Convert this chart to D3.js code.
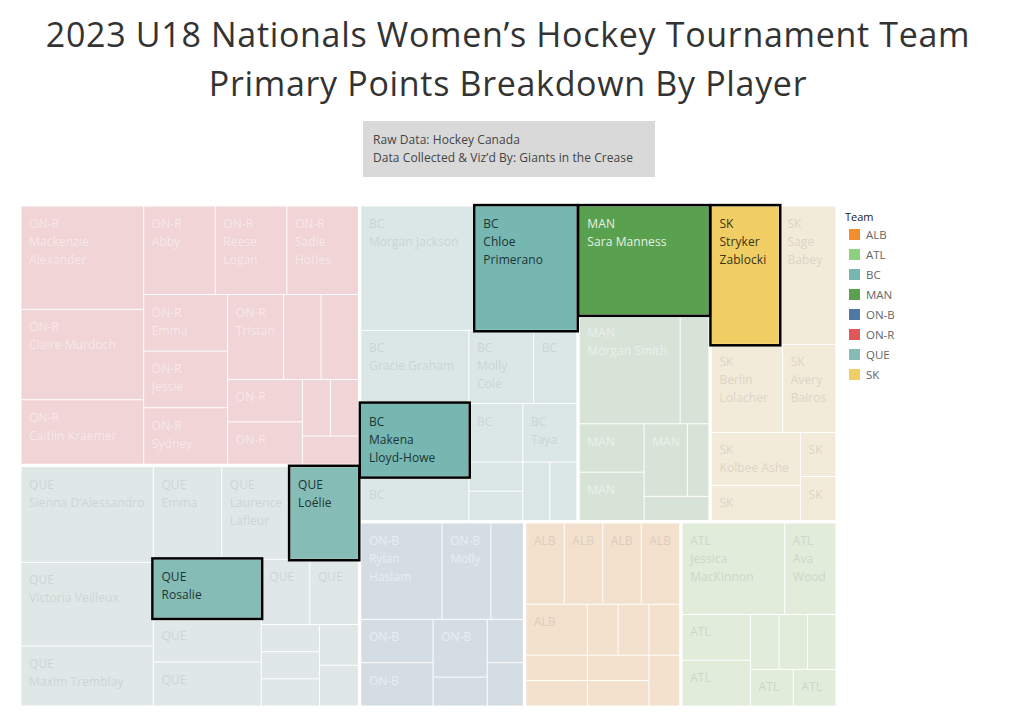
<!DOCTYPE html>
<html>
<head>
<meta charset="utf-8">
<script src="https://cdn.jsdelivr.net/npm/d3@7"></script>
<style>
  html, body { margin: 0; padding: 0; background: #fff; }
  svg { display: block; font-family: "Open Sans", sans-serif; }
</style>
</head>
<body>
<svg id="chart" width="1015" height="713"></svg>
<script>
/* ── Data ───────────────────────────────────────────────────────────────── */
const titleLines = ['2023 U18 Nationals Women’s Hockey Tournament Team', 'Primary Points Breakdown By Player'];
const noteLines  = ['Raw Data: Hockey Canada', 'Data Collected & Viz’d By: Giants in the Crease'];

const legendTeams = ['ALB', 'ATL', 'BC', 'MAN', 'ON-B', 'ON-R', 'QUE', 'SK'];

const onrPoints = [8, 7, 5, 4, 4, 4, 3, 3, 3, 3, 2, 2, 2, 2, 1, 1, 1];
const onrNames  = ['Mackenzie Alexander', 'Claire Murdoch', 'Caitlin Kraemer', 'Abby', 'Reese Logan', 'Sadie Hotles', 'Emma', 'Jessie', 'Sydney', 'Tristan'];
const quePoints = [8, 7, 5, 4, 4, 4, 4, 3, 3, 2, 2, 1, 1, 1, 1, 1];
const queNames  = ['Sienna D’Alessandro', 'Victoria Veilleux', 'Maxim Tremblay', 'Emma', 'Laurence Lafleur', 'Loélie', 'Rosalie'];
const bcPoints  = [9, 8, 5, 5, 3, 3, 2, 2, 2, 1, 1, 1, 1];
const bcNames   = ['Morgan Jackson', 'Chloe Primerano', 'Gracie Graham', 'Makena Lloyd-Howe', '', 'Molly Cole', '', '', 'Taya'];
const manPoints = [9, 7, 2, 2, 2, 2, 1, 1];
const manNames  = ['Sara Manness', 'Morgan Smith'];
const skPoints  = [6, 5, 4, 3, 3, 2, 1, 1];
const skNames   = ['Stryker Zablocki', 'Sage Babey', 'Berlin Lolacher', 'Avery Bairos', 'Kolbee Ashe'];
const onbPoints = [5, 3, 2, 2, 2, 2, 1, 1, 1];
const onbNames  = ['Rylan Haslam', 'Molly'];
const albPoints = [2, 2, 2, 2, 2, 1, 1, 1, 1, 1, 1, 1, 1];
const albNames  = [];
const atlPoints = [6, 3, 2, 2, 1, 1, 1, 1, 1];
const atlNames  = ['Jessica MacKinnon', 'Ava Wood'];

const highlighted = ['Chloe Primerano', 'Makena Lloyd-Howe', 'Sara Manness', 'Stryker Zablocki', 'Loélie', 'Rosalie'];

/* ── Colours ────────────────────────────────────────────────────────────── */
const teamColor = d3.scaleOrdinal(legendTeams, ['#f28e2b', '#8cd17d', '#76b7b2', '#59a14f', '#4e79a7', '#e15759', '#86bcb6', '#f1ce63']);
const fadeColor = d3.scaleOrdinal(legendTeams, ['#f3e1ce', '#e1ecdb', '#dbe7e6', '#d8e3d8', '#d4dde4', '#f0d4d6', '#dfe8e7', '#f2ebda']);
const fadeLabel = d3.scaleOrdinal(legendTeams, ['#dcccbc', '#cdd8c8', '#c9d5d4', '#eaf0ea', '#e8edf1', '#f7e8e9', '#cdd6d5', '#dcd5c6']);
const hiLabel   = d3.scaleOrdinal(legendTeams, ['#222', '#222', '#1d3533', '#e6f0e4', '#fff', '#fff', '#1d3533', '#3a3215']);

/* ── Hierarchy ──────────────────────────────────────────────────────────── */
const players = (team, points, names) => points.map((v, i) => ({ team, value: v, name: names[i] || '' }));

const rootData = {
  children: [
    { team: 'ON-R', children: players('ON-R', onrPoints, onrNames) },
    { team: 'QUE',  children: players('QUE', quePoints, queNames) },
    { team: 'BC',   children: players('BC', bcPoints, bcNames) },
    { team: 'MAN',  children: players('MAN', manPoints, manNames) },
    { team: 'SK',   children: players('SK', skPoints, skNames) },
    { team: 'ON-B', children: players('ON-B', onbPoints, onbNames) },
    { team: 'ALB',  children: players('ALB', albPoints, albNames) },
    { team: 'ATL',  children: players('ATL', atlPoints, atlNames) },
  ],
};

const svg = d3.select('#chart');

/* ── Title + note ───────────────────────────────────────────────────────── */
svg.selectAll('text.title').data(titleLines).join('text')
  .attr('class', 'title')
  .attr('x', 508)
  .attr('y', (d, i) => 46.5 + i * 49)
  .attr('text-anchor', 'middle')
  .attr('font-size', 34)
  .attr('letter-spacing', 0.68)
  .attr('fill', '#333')
  .text(d => d);

svg.append('rect').attr('x', 363).attr('y', 121).attr('width', 292).attr('height', 56).attr('fill', '#d9d9d9');
svg.selectAll('text.note').data(noteLines).join('text')
  .attr('class', 'note')
  .attr('x', 373)
  .attr('y', (d, i) => 144 + i * 18)
  .attr('font-size', 12)
  .attr('letter-spacing', 0.07)
  .attr('fill', '#444')
  .text(d => d);

/* ── Treemap ────────────────────────────────────────────────────────────── */
const root = d3.hierarchy(rootData).sum(d => d.value || 0);

d3.treemap()
  .tile(d3.treemapSquarify)
  .size([814, 499])
  .paddingInner(n => n.depth === 0 ? 3.4 : 1)(root);

const plot = svg.append('g').attr('transform', 'translate(21.5,206.5)');
const leaves = root.leaves();
const isHi = d => highlighted.includes(d.data.name);

plot.selectAll('rect.cell').data(leaves).join('rect')
  .attr('class', 'cell')
  .attr('x', d => d.x0)
  .attr('y', d => d.y0)
  .attr('width', d => d.x1 - d.x0)
  .attr('height', d => d.y1 - d.y0)
  .attr('fill', d => isHi(d) ? teamColor(d.data.team) : fadeColor(d.data.team));

// highlighted cells get their black box on top of the neighbours
plot.selectAll('rect.box').data(leaves.filter(isHi)).join('rect')
  .attr('class', 'box')
  .attr('x', d => d.x0 - 1.4)
  .attr('y', d => d.y0 - 1.4)
  .attr('width', d => d.x1 - d.x0 + 2.8)
  .attr('height', d => d.y1 - d.y0 + 2.8)
  .attr('fill', 'none')
  .attr('stroke', '#000')
  .attr('stroke-width', 2.5);

/* ── Cell labels ────────────────────────────────────────────────────────── */
const LABEL_PAD = 7.6, LINE_H = 18, LABEL_SIZE = 12;

function textWidth(probe, s) {
  probe.text(s);
  return probe.node().getComputedTextLength();
}

const probe = svg.append('text').attr('font-size', LABEL_SIZE).attr('letter-spacing', 0.07).attr('visibility', 'hidden');

function labelLines(d) {
  const room = d.x1 - d.x0 - LABEL_PAD * 2 + 1;
  if (d.y1 - d.y0 < 32 || textWidth(probe, d.data.team) > room) return [];
  const lines = [d.data.team];
  if (!d.data.name) return lines;
  if (textWidth(probe, d.data.name) <= room) lines.push(d.data.name);
  else lines.push(...d.data.name.split(' '));
  return lines;
}

leaves.forEach(d => {
  plot.append('g').selectAll('text').data(labelLines(d)).join('text')
    .attr('x', d.x0 + LABEL_PAD)
    .attr('y', (t, i) => d.y0 + 21.5 + i * LINE_H)
    .attr('font-size', LABEL_SIZE)
    .attr('letter-spacing', 0.07)
    .attr('fill', isHi(d) ? hiLabel(d.data.team) : fadeLabel(d.data.team))
    .text(t => t);
});
probe.remove();

/* ── Legend ─────────────────────────────────────────────────────────────── */
const legendY = d3.scaleBand().domain(legendTeams).range([224.5, 384.5]);
const legend = svg.append('g');

legend.append('text').attr('x', 845).attr('y', 221).attr('font-size', 11).attr('fill', '#222').text('Team');
legend.selectAll('rect').data(legendTeams).join('rect')
  .attr('x', 849)
  .attr('y', d => legendY(d) + (legendY.bandwidth() - 11) / 2)
  .attr('width', 11)
  .attr('height', 11)
  .attr('fill', d => teamColor(d));
legend.selectAll('text.item').data(legendTeams).join('text')
  .attr('class', 'item')
  .attr('x', 866)
  .attr('y', d => legendY(d) + legendY.bandwidth() / 2 + 4)
  .attr('font-size', 11.5)
  .attr('fill', '#666')
  .text(d => d);
</script>
</body>
</html>
